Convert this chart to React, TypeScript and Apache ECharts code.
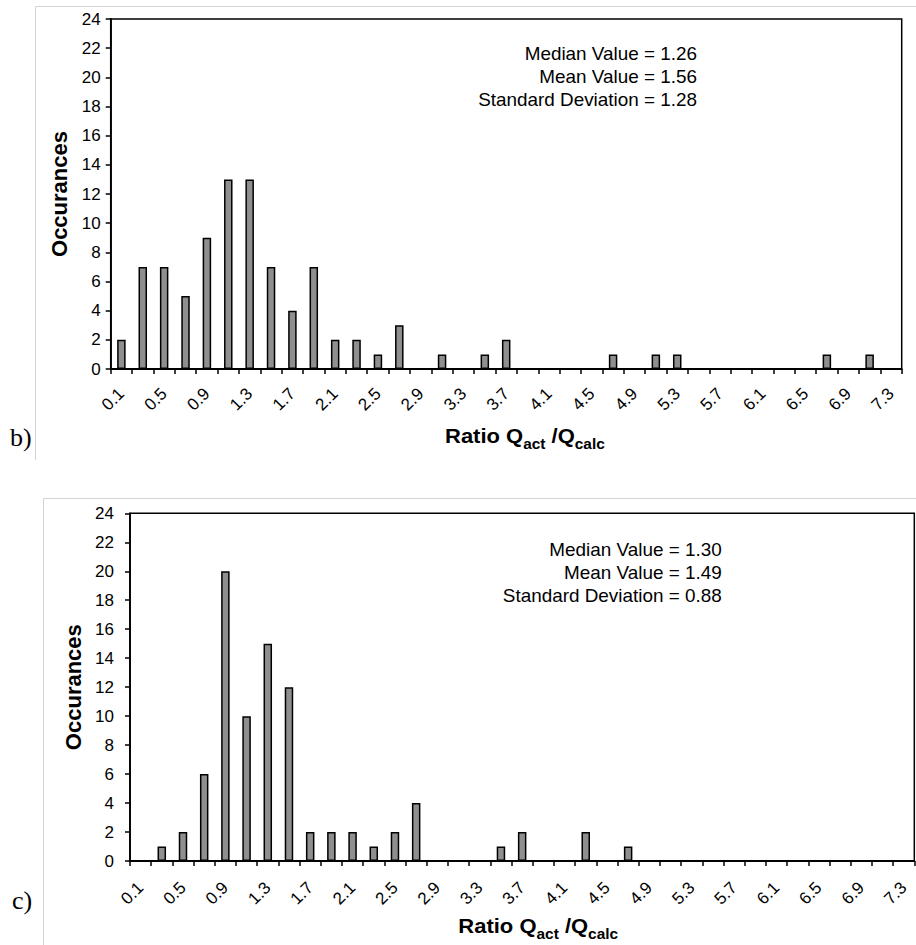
import React, { useEffect, useRef } from "react";
import * as echarts from "echarts";

const categories = [
  "0.1", "0.3", "0.5", "0.7", "0.9", "1.1", "1.3", "1.5", "1.7", "1.9",
  "2.1", "2.3", "2.5", "2.7", "2.9", "3.1", "3.3", "3.5", "3.7", "3.9",
  "4.1", "4.3", "4.5", "4.7", "4.9", "5.1", "5.3", "5.5", "5.7", "5.9",
  "6.1", "6.3", "6.5", "6.7", "6.9", "7.1", "7.3",
];

const occurrencesB = [
  2, 7, 7, 5, 9, 13, 13, 7, 4, 7,
  2, 2, 1, 3, 0, 1, 0, 1, 2, 0,
  0, 0, 0, 1, 0, 1, 1, 0, 0, 0,
  0, 0, 0, 1, 0, 1, 0,
];

const occurrencesC = [
  0, 1, 2, 6, 20, 10, 15, 12, 2, 2,
  2, 1, 2, 4, 0, 0, 0, 1, 2, 0,
  0, 2, 0, 1, 0, 0, 0, 0, 0, 0,
  0, 0, 0, 0, 0, 0, 0,
];

const statsB = ["Median Value = 1.26", "Mean Value = 1.56", "Standard Deviation = 1.28"];
const statsC = ["Median Value = 1.30", "Mean Value = 1.49", "Standard Deviation = 0.88"];

const FONT = "'Liberation Sans', Arial, Helvetica, sans-serif";

export default function App() {
  const ref = useRef<HTMLDivElement>(null);

  useEffect(() => {
    if (!ref.current) return;
    const chart = echarts.init(ref.current, undefined, { renderer: "svg" });

    const xAxisBase = (gridIndex: number, margin: number) => ({
      type: "category" as const,
      gridIndex,
      data: categories,
      boundaryGap: true,
      axisLine: { show: true, lineStyle: { color: "#000", width: 1.8 } },
      axisTick: { show: true, interval: 0, length: 5, alignWithLabel: false, lineStyle: { color: "#000", width: 1.5 } },
      axisLabel: { interval: 1, rotate: 45, margin, fontSize: 17, color: "#000", fontFamily: FONT },
      splitLine: { show: false },
    });

    const yAxisBase = (gridIndex: number, nameGap: number, margin: number) => ({
      type: "value" as const,
      gridIndex,
      min: 0,
      max: 24,
      interval: 2,
      name: "Occurances",
      nameLocation: "middle" as const,
      nameGap,
      nameTextStyle: { fontSize: 22, fontWeight: "bold" as const, color: "#000", fontFamily: FONT },
      axisLine: { show: true, lineStyle: { color: "#000", width: 1.8 } },
      axisTick: { show: true, length: 5, lineStyle: { color: "#000", width: 1.5 } },
      axisLabel: { margin, fontSize: 17, color: "#000", fontFamily: FONT },
      splitLine: { show: false },
    });

    const barSeries = (idx: number, data: number[]) => ({
      type: "bar" as const,
      xAxisIndex: idx,
      yAxisIndex: idx,
      data,
      barWidth: 8.5,
      itemStyle: { color: "#8f8f8f", borderColor: "#000", borderWidth: 1.5 },
      silent: true,
    });

    const axisTitle = (x: number, y: number) => ({
      type: "text",
      x,
      y,
      scaleX: 1.1,
      style: {
        text: "{m|Ratio Q}{s|act}{m| /Q}{s|calc}",
        align: "left",
        verticalAlign: "top",
        fill: "#000",
        rich: {
          m: { fontSize: 20, fontWeight: "bold", fontFamily: FONT, fill: "#000", verticalAlign: "top", lineHeight: 25 },
          s: { fontSize: 14, fontWeight: "bold", fontFamily: FONT, fill: "#000", verticalAlign: "bottom", lineHeight: 25 },
        },
      },
    });

    const statsText = (x: number, y: number, lines: string[]) => ({
      type: "text",
      x,
      y,
      scaleX: 1.05,
      style: {
        text: lines.join("\n"),
        align: "right",
        verticalAlign: "top",
        fontSize: 18,
        lineHeight: 22.7,
        fontFamily: FONT,
        fill: "#000",
      },
    });

    const frameColor = "#d4d4d4";

    chart.setOption({
      animation: false,
      backgroundColor: "#fff",
      grid: [
        { left: 110.7, top: 19, right: 14.3, bottom: 576, show: true, borderColor: "#000", borderWidth: 1.5, backgroundColor: "transparent" },
        { left: 130, top: 513.3, right: 1.7, bottom: 84, show: true, borderColor: "#000", borderWidth: 1.5, backgroundColor: "transparent" },
      ],
      xAxis: [xAxisBase(0, 22), xAxisBase(1, 24)],
      yAxis: [yAxisBase(0, 40, 10), yAxisBase(1, 46, 16)],
      series: [barSeries(0, occurrencesB), barSeries(1, occurrencesC)],
      graphic: [
        { type: "polyline", shape: { points: [[35.5, 460], [35.5, 6.5], [916, 6.5]] }, style: { stroke: frameColor, fill: "none", lineWidth: 1 }, silent: true },
        { type: "polyline", shape: { points: [[43.5, 945], [43.5, 498.5], [916, 498.5]] }, style: { stroke: frameColor, fill: "none", lineWidth: 1 }, silent: true },
        statsText(697, 42.8, statsB),
        statsText(721.7, 538.7, statsC),
        axisTitle(445, 426),
        axisTitle(458.3, 916),
        { type: "text", x: 10, y: 437, style: { text: "b)", fontSize: 26, fontFamily: "'Liberation Serif', 'Times New Roman', serif", fill: "#000", verticalAlign: "middle", align: "left" } },
        { type: "text", x: 12, y: 900, style: { text: "c)", fontSize: 26, fontFamily: "'Liberation Serif', 'Times New Roman', serif", fill: "#000", verticalAlign: "middle", align: "left" } },
      ],
    });

    return () => chart.dispose();
  }, []);

  return (
    <div
      ref={ref}
      style={{ position: "absolute", left: 0, top: 0, width: 916, height: 945, background: "#fff" }}
    />
  );
}
